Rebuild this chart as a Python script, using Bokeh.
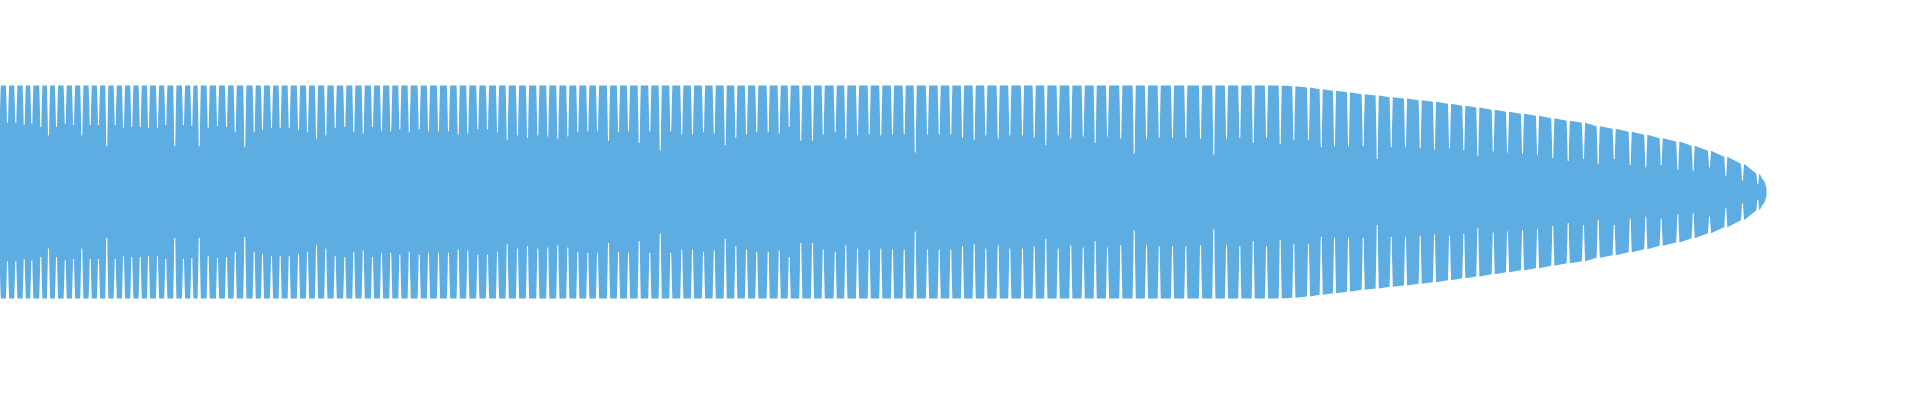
import numpy as np
from bokeh.plotting import figure
from bokeh.embed import file_html
from bokeh.resources import INLINE

# waveform; time axis in frames, amplitude normalised to the peak
# each gap is a notch between two oscillation teeth: where it sits, how deep it reaches
gap_t_a = [6.7, 15.0, 23.3, 31.7, 39.3, 48.3, 56.0, 64.0, 72.7, 81.0, 89.3, 97.7,
           106.0, 114.3, 122.7, 131.0, 139.3, 147.7, 156.0, 165.0, 173.3, 182.3, 191.0, 199.3]
floor_a = [0.64, 0.65, 0.65, 0.63, 0.64, 0.61, 0.53, 0.61, 0.64, 0.63, 0.53, 0.63,
           0.63, 0.43, 0.63, 0.60, 0.61, 0.61, 0.60, 0.60, 0.63, 0.43, 0.63, 0.62]

gap_t_b = [206.7, 215.7, 225.0, 234.0, 242.7, 252.3, 261.7, 270.0, 279.0, 287.7,
           296.7, 306.0, 315.0, 324.0, 333.3, 342.7, 352.3, 361.3, 370.7, 380.0,
           389.0, 398.3, 407.3, 416.7, 426.7, 436.0, 446.0, 456.0, 465.7, 475.3,
           485.3, 495.0, 505.0, 514.7, 525.0, 535.0, 545.3, 555.3, 565.3, 575.3,
           585.3, 595.3]
floor_b = [0.43, 0.60, 0.62, 0.61, 0.56, 0.42, 0.56, 0.58, 0.60, 0.60,
           0.60, 0.58, 0.56, 0.50, 0.53, 0.60, 0.61, 0.56, 0.55, 0.61,
           0.57, 0.57, 0.59, 0.56, 0.59, 0.57, 0.57, 0.57, 0.54, 0.55,
           0.59, 0.59, 0.56, 0.49, 0.53, 0.51, 0.53, 0.52, 0.50, 0.52,
           0.56, 0.57]

gap_t_c = [605.0, 616.0, 626.0, 636.0, 646.7, 657.3, 667.7, 678.3, 689.3, 700.0,
           711.0, 721.7, 732.7, 743.3, 754.0, 764.3, 775.7, 786.7, 796.7]
floor_c = [0.57, 0.48, 0.56, 0.57, 0.46, 0.57, 0.39, 0.57, 0.54, 0.54,
           0.56, 0.55, 0.44, 0.51, 0.54, 0.56, 0.56, 0.55, 0.61]

gap_t_d = [808.3, 820.0, 830.7, 842.7, 853.3, 865.0, 876.7, 888.3, 900.0, 911.7,
           922.7, 935.0, 946.7, 958.3, 970.0, 981.7, 993.3, 1005.7, 1017.3, 1030.0,
           1041.7, 1053.3, 1065.7, 1078.3, 1090.7, 1102.7, 1115.0, 1128.3, 1141.7, 1154.0,
           1166.7, 1180.0, 1193.3]
floor_d = [0.48, 0.48, 0.54, 0.56, 0.50, 0.53, 0.54, 0.53, 0.54, 0.54,
           0.37, 0.54, 0.54, 0.54, 0.51, 0.49, 0.53, 0.50, 0.53, 0.53,
           0.51, 0.44, 0.53, 0.50, 0.52, 0.46, 0.52, 0.50, 0.36, 0.50,
           0.51, 0.51, 0.51]

gap_t_e = [1208.0, 1221.3, 1234.0, 1247.3, 1260.7, 1274.0, 1287.7, 1301.3, 1316.0, 1328.7,
           1342.0, 1356.0, 1370.7, 1384.7, 1398.7, 1413.0, 1427.7, 1442.0, 1457.0, 1471.3,
           1485.3, 1500.7, 1515.0, 1530.0, 1545.0, 1560.3, 1575.7, 1591.0]
floor_e = [0.50, 0.35, 0.50, 0.51, 0.46, 0.51, 0.45, 0.49, 0.49, 0.42,
           0.43, 0.43, 0.43, 0.31, 0.42, 0.42, 0.41, 0.40, 0.41, 0.39,
           0.34, 0.38, 0.37, 0.36, 0.35, 0.32, 0.29, 0.31]

gap_t_f = [1605.7, 1621.7, 1637.7, 1653.3, 1668.7, 1685.3, 1700.7, 1717.0, 1733.3, 1750.0, 1765.3]
floor_f = [0.26, 0.31, 0.25, 0.23, 0.25, 0.21, 0.20, 0.23, 0.15, 0.105, 0.073]

# full amplitude until the fade-out, then the envelope at each of the last gaps
peak = 1.0
decay_amp = [0.993, 0.981, 0.965, 0.950, 0.937, 0.918, 0.906, 0.890, 0.878, 0.862,
             0.847, 0.828, 0.809, 0.793, 0.772, 0.753, 0.734, 0.715, 0.693, 0.668,
             0.650, 0.617, 0.593, 0.566, 0.537, 0.505, 0.474, 0.435, 0.387, 0.332,
             0.266, 0.174]

head_t = [0.0, 0.8, 1.8]
head_amp = [0.37, 0.87, 1.0]
tail_t = [1769.5, 1772.5, 1774.0]
tail_amp = [0.13, 0.09, 0.03]

gap_t = gap_t_a + gap_t_b + gap_t_c + gap_t_d + gap_t_e + gap_t_f
gap_floor = floor_a + floor_b + floor_c + floor_d + floor_e + floor_f
gap_amp = [peak] * (len(gap_t) - len(decay_amp)) + decay_amp

# notch profile: (half width, fraction of depth)
profile = [(1.6, 0.0), (1.2, 0.3), (0.8, 0.65), (0.5, 1.0)]

xs, ys = list(head_t), list(head_amp)
for t, a, f in zip(gap_t, gap_amp, gap_floor):
    for hw, k in profile:
        xs.append(t - hw)
        ys.append(a - k * (a - f))
    for hw, k in reversed(profile):
        xs.append(t + hw)
        ys.append(a - k * (a - f))
xs += tail_t
ys += tail_amp

# the lower half mirrors the upper one
px = np.array(xs + xs[::-1])
py = np.array(ys + [-y for y in ys[::-1]])

p = figure(width=1904, height=384, x_range=(0, 1904), y_range=(-1.8075, 1.798),
           x_axis_type=None, y_axis_type=None, toolbar_location=None,
           output_backend="svg", min_border=0)
p.outline_line_color = None
p.background_fill_color = "white"
p.border_fill_color = "white"
# let the waveform start at the very left edge of the window, as in the original
p.styles = {"margin-left": "-8px"}

p.patch(px, py, fill_color="#5DADE2", fill_alpha=1.0, line_color=None)

open("out.html", "w").write(file_html(p, INLINE))
